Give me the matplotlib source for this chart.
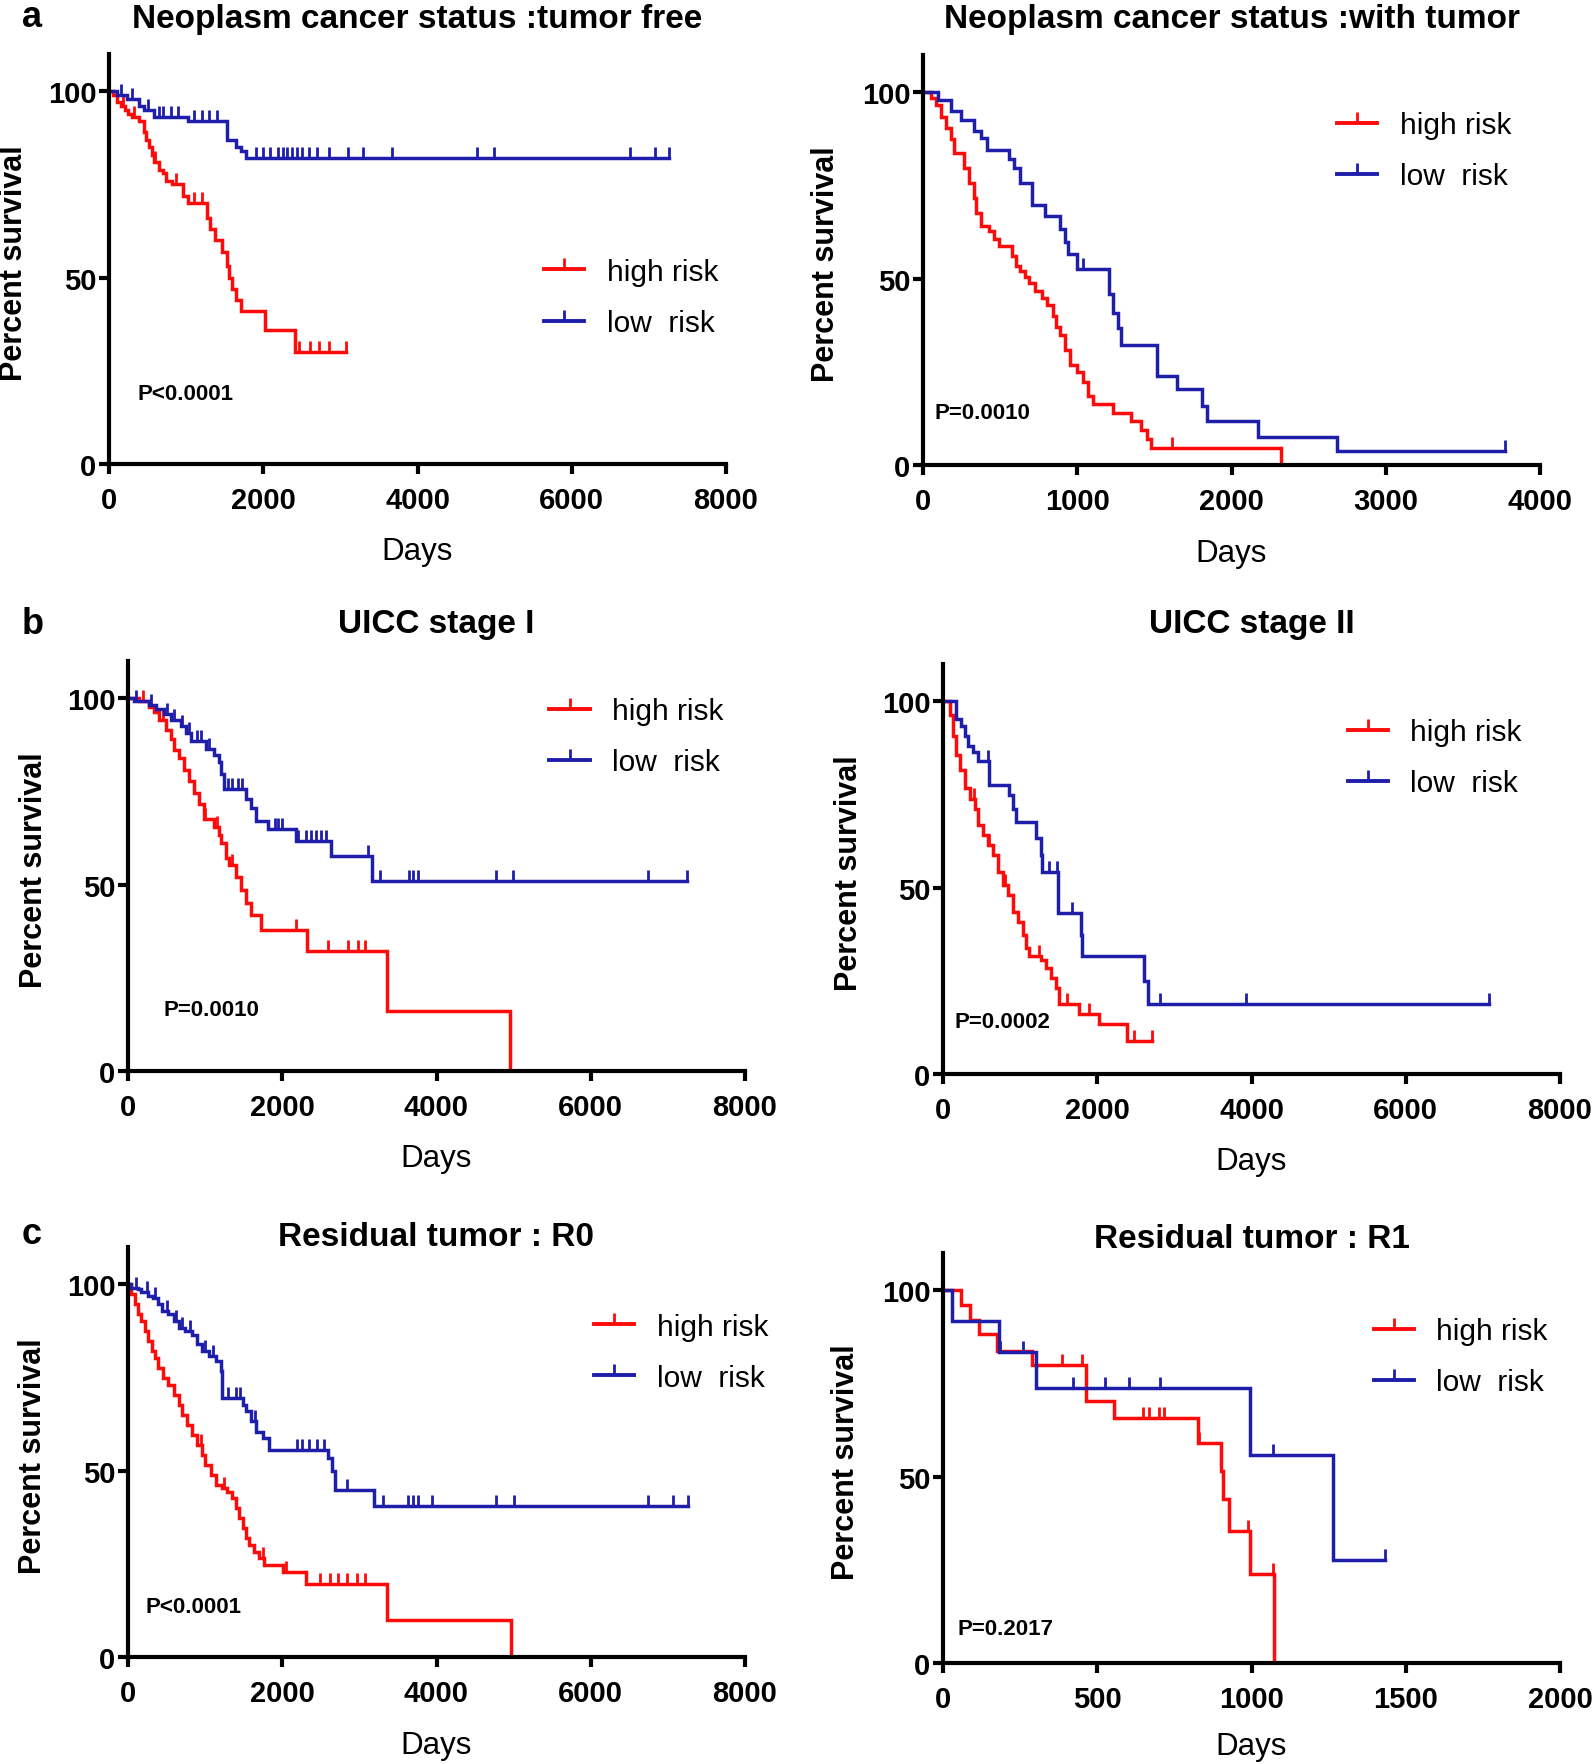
import numpy as np
import matplotlib
matplotlib.use("Agg")
import matplotlib.pyplot as plt
from matplotlib.lines import Line2D

plt.rcParams['font.family'] = ['Liberation Sans', 'DejaVu Sans']

RED = '#FF0A0A'
BLUE = '#1E1EAA'

# ---- data (days, percent survival after each event, censored times) ----
# a: tumor free
tf_high_t = [50, 107, 150, 202, 250, 296, 391, 454, 480, 517, 560, 580, 650, 700, 738, 820, 958, 1021,
             1274, 1305, 1368, 1463, 1526, 1560, 1589, 1652, 1715, 2018, 2409]
tf_high_s = [99, 97, 96, 95, 94, 93, 92, 89, 87, 85, 83, 81, 79, 78, 76, 75, 72, 70,
             66, 63, 60, 57, 53, 50, 47, 44, 41, 36, 30]
tf_high_end = 3071
tf_high_cens = [180, 330, 600, 870, 1100, 1200, 2470, 2600, 2720, 2850, 3071]

tf_low_t = [107, 233, 391, 454, 580, 1021, 1526, 1652, 1715, 1778]
tf_low_s = [99, 98, 96, 95, 93, 92, 87, 85, 84, 82]
tf_low_end = 7264
tf_low_cens = [150, 300, 500, 650, 700, 800, 900, 1100, 1200, 1300, 1400, 1904, 1999, 2093, 2188,
               2251, 2314, 2377, 2440, 2503, 2598, 2692, 2850, 3102, 3291, 3670, 4773, 4994,
               6759, 7074, 7264]

# a: with tumor
wt_high_t = [49, 82, 115, 148, 181, 198, 263, 296, 329, 346, 379, 428, 461, 494, 580, 600, 630, 660,
             690, 724, 774, 807, 840, 865, 889, 922, 955, 998, 1037, 1070, 1103, 1235, 1350, 1416,
             1449, 1481, 2321]
wt_high_s = [98.5, 96.5, 93.5, 90.5, 87.5, 83.6, 79.6, 75.6, 71.6, 67.7, 64, 62.7, 60.7, 58.7, 56,
             53.5, 52, 50.5, 48.8, 46.8, 44.8, 42.8, 40, 37, 34.8, 30.8, 26.9, 24.9, 22.4, 18.4,
             16.4, 13.9, 11.9, 9.5, 7, 4.5, 0]
wt_high_end = 2321
wt_high_cens = [1613]

wt_low_t = [99, 181, 247, 329, 379, 412, 560, 590, 626, 708, 790, 889, 922, 938, 998, 1208, 1235,
            1261, 1284, 1514, 1646, 1811, 1844, 2173, 2683]
wt_low_s = [98, 95, 92.5, 89.5, 87.6, 84.6, 82, 79.6, 75.6, 69.7, 66.7, 63.2, 59.7, 56.7, 52.7,
            45.8, 40.8, 36.8, 32.3, 23.9, 20.4, 15.9, 11.9, 7.5, 3.8]
wt_low_end = 3770
wt_low_cens = [1037, 3770]

# b: UICC stage I
s1_high_t = [142, 271, 336, 400, 497, 562, 594, 658, 723, 788, 852, 917, 981, 1110, 1175, 1207,
             1272, 1304, 1401, 1465, 1530, 1595, 1724, 2318, 3357, 4952]
s1_high_s = [99.3, 97.7, 96.2, 94.2, 91.6, 89, 86, 84, 80.8, 77.7, 74.7, 71.6, 67.5, 65.4, 63.4,
             61.3, 57.2, 55.2, 52.1, 48.6, 45, 41.8, 37.7, 32.1, 16.2, 0]
s1_high_end = 4952
s1_high_cens = [200, 450, 1000, 1150, 1350, 2176, 2595, 2853, 2983, 3079]

s1_low_t = [77, 271, 368, 465, 562, 691, 755, 820, 1014, 1110, 1175, 1207, 1240, 1530, 1595, 1659,
            1821, 2176, 2627, 3163]
s1_low_s = [99.3, 98.3, 97.2, 95.7, 94.2, 92.6, 90.6, 88.5, 86.5, 84.9, 82.9, 79.8, 75.7, 73.1,
            70.6, 67, 64.9, 61.8, 57.7, 51.1]
s1_low_end = 7243
s1_low_cens = [110, 300, 500, 600, 700, 790, 900, 950, 1050, 1300, 1350, 1420, 1480, 1900, 1950,
               2000, 2208, 2305, 2369, 2434, 2498, 2563, 3112, 3273, 3641, 3692, 3757, 4771, 4997,
               6740, 7243]

# b: UICC stage II
s2_high_t = [86, 129, 172, 215, 280, 344, 409, 452, 516, 581, 645, 710, 774, 839, 903, 968, 1032,
             1075, 1118, 1269, 1333, 1398, 1462, 1505, 1763, 2022, 2387]
s2_high_s = [96.2, 90.8, 85.5, 81.5, 76.6, 73.9, 71.2, 66.8, 64.1, 61.4, 58.7, 54.3, 50.7, 48.0,
             43.5, 40.9, 37.3, 33.8, 31.6, 30.7, 28.5, 25.8, 23.1, 18.7, 16.0, 13.3, 8.8]
s2_high_end = 2710
s2_high_cens = [400, 600, 800, 1250, 1613, 1892, 2473, 2710]

s2_low_t = [172, 237, 280, 323, 387, 452, 602, 860, 903, 946, 1204, 1269, 1290, 1495, 1785, 1806,
            2602, 2654]
s2_low_s = [95.3, 93.5, 90.8, 88.1, 86.4, 84.1, 77.5, 74.8, 71.2, 67.7, 63.2, 58.7, 54.3, 43.1,
            37.4, 31.6, 24.9, 18.7]
s2_low_end = 7074
s2_low_cens = [581, 1376, 1484, 1677, 2817, 3935, 7074]

# c: residual tumor R0
r0_high_t = [44, 87, 131, 175, 218, 262, 306, 349, 393, 459, 524, 590, 655, 699, 764, 830, 895, 961,
             1004, 1070, 1135, 1223, 1288, 1354, 1397, 1441, 1485, 1528, 1572, 1638, 1703, 1769,
             2009, 2314, 3362, 4969]
r0_high_s = [97.3, 94.6, 91.9, 90.1, 87.4, 84.8, 82.1, 80.3, 77.6, 74.9, 73.1, 70.4, 67.7, 65.0,
             62.3, 59.6, 56.9, 54.3, 51.6, 48.9, 46.2, 45.3, 44.4, 42.6, 39.9, 37.2, 34.5, 31.8,
             30.0, 28.3, 26.5, 24.7, 22.9, 19.7, 10.0, 0]
r0_high_end = 4969
r0_high_cens = [600, 950, 1250, 1747, 2052, 2489, 2620, 2729, 2838, 2969, 3079]

r0_low_t = [44, 131, 175, 262, 328, 393, 437, 524, 590, 655, 742, 830, 895, 961, 1048, 1135, 1201,
            1223, 1485, 1528, 1594, 1659, 1747, 1834, 2598, 2642, 2686, 3188]
r0_low_s = [99.1, 98.7, 97.8, 96.9, 96.4, 94.6, 92.8, 91.9, 90.1, 88.3, 87.4, 86.5, 83.9, 82.1,
            80.7, 79.4, 76.7, 69.5, 67.7, 65.9, 63.2, 60.5, 58.7, 55.6, 53.4, 49.8, 44.8, 40.4]
r0_low_end = 7260
r0_low_cens = [100, 250, 350, 500, 620, 700, 800, 1000, 1100, 1300, 1400, 1450, 1650, 2187, 2252,
               2350, 2448, 2547, 2841, 3300, 3627, 3692, 3758, 3941, 4772, 5002, 6736, 7064, 7260]

# c: residual tumor R1
r1_high_t = [59, 89, 117, 176, 290, 465, 554, 825, 900, 908, 926, 995, 1072]
r1_high_s = [96, 92, 88.2, 83.7, 80, 70.4, 65.8, 59.1, 51.6, 44.1, 35.3, 23.8, 0]
r1_high_end = 1072
r1_high_cens = [385, 451, 649, 668, 700, 715, 830, 990, 1070]

r1_low_t = [28, 180, 300, 995, 1264]
r1_low_s = [91.7, 83.4, 73.8, 55.8, 27.6]
r1_low_end = 1432
r1_low_cens = [185, 259, 423, 526, 603, 703, 1069, 1432]


def km(ax, times, surv, end, cens, color):
    x = np.r_[0, times, end]
    y = np.r_[100, surv, surv[-1]]
    ax.step(x, y, where='post', color=color, lw=2.5, solid_joinstyle='miter')
    t_all = np.r_[0, times]
    s_all = np.r_[100, surv]
    idx = np.searchsorted(t_all, cens, side='right') - 1
    ax.plot(cens, s_all[idx], ls='none', marker=2, ms=8, mew=2.0, color=color)


W, H = 1595, 1765
fig = plt.figure(figsize=(W / 100, H / 100), dpi=100)

panels = [
    dict(l=109, b=465, title='Neoplasm cancer status :tumor free', tb=28, xmax=8000, step=2000,
         high=(tf_high_t, tf_high_s, tf_high_end, tf_high_cens),
         low=(tf_low_t, tf_low_s, tf_low_end, tf_low_cens),
         p='P<0.0001', pp=(0.047, 0.171), lg=(0.705, 0.503), yl=14, xl=552),
    dict(l=923, b=466, title='Neoplasm cancer status :with tumor', tb=28, xmax=4000, step=1000,
         high=(wt_high_t, wt_high_s, wt_high_end, wt_high_cens),
         low=(wt_low_t, wt_low_s, wt_low_end, wt_low_cens),
         p='P=0.0010', pp=(0.019, 0.127), lg=(0.671, 0.863), yl=826, xl=554),
    dict(l=128, b=1072, title='UICC stage I', tb=633, xmax=8000, step=2000,
         high=(s1_high_t, s1_high_s, s1_high_end, s1_high_cens),
         low=(s1_low_t, s1_low_s, s1_low_end, s1_low_cens),
         p='P=0.0010', pp=(0.057, 0.149), lg=(0.683, 0.912), yl=34, xl=1159),
    dict(l=943, b=1075, title='UICC stage II', tb=633, xmax=8000, step=2000,
         high=(s2_high_t, s2_high_s, s2_high_end, s2_high_cens),
         low=(s2_low_t, s2_low_s, s2_low_end, s2_low_cens),
         p='P=0.0002', pp=(0.019, 0.129), lg=(0.656, 0.868), yl=849, xl=1162),
    dict(l=128, b=1658, title='Residual tumor : R0', tb=1246, xmax=8000, step=2000,
         high=(r0_high_t, r0_high_s, r0_high_end, r0_high_cens),
         low=(r0_low_t, r0_low_s, r0_low_end, r0_low_cens),
         p='P<0.0001', pp=(0.028, 0.122), lg=(0.755, 0.840), yl=33, xl=1746),
    dict(l=943, b=1664, title='Residual tumor : R1', tb=1248, xmax=2000, step=500,
         high=(r1_high_t, r1_high_s, r1_high_end, r1_high_cens),
         low=(r1_low_t, r1_low_s, r1_low_end, r1_low_cens),
         p='P=0.2017', pp=(0.024, 0.085), lg=(0.698, 0.844), yl=846, xl=1747),
]

aw, ah = 617, 410
for pn in panels:
    ax = fig.add_axes([pn['l'] / W, 1 - pn['b'] / H, aw / W, ah / H])
    km(ax, *pn['high'], RED)
    km(ax, *pn['low'], BLUE)
    ax.set_xlim(0, pn['xmax'])
    ax.set_ylim(0, 110)
    ax.set_xticks(np.arange(0, pn['xmax'] + 1, pn['step']))
    ax.set_yticks([0, 50, 100])
    for s in ['top', 'right']:
        ax.spines[s].set_visible(False)
    for s in ['left', 'bottom']:
        ax.spines[s].set_linewidth(3)
    ax.tick_params(axis='both', width=3, length=7, labelsize=21)
    ax.tick_params(axis='x', pad=9)
    ax.tick_params(axis='y', pad=2)
    for lab in ax.get_xticklabels() + ax.get_yticklabels():
        lab.set_fontweight('bold')
    ax.text(pn['pp'][0], pn['pp'][1], pn['p'], transform=ax.transAxes, fontsize=16,
            fontweight='bold', ha='left', va='center')
    handles = [Line2D([], [], color=RED, lw=2.8, marker=2, ms=8, mew=2.0),
               Line2D([], [], color=BLUE, lw=2.8, marker=2, ms=8, mew=2.0)]
    ax.legend(handles, ['high risk', 'low  risk'], loc='upper left', bbox_to_anchor=pn['lg'],
              frameon=False, fontsize=21.5, numpoints=1, handlelength=1.35, handletextpad=0.75,
              labelspacing=0.78, borderpad=0, borderaxespad=0)
    cx = (pn['l'] + aw / 2) / W
    fig.text(cx, 1 - pn['tb'] / H, pn['title'], ha='center', va='baseline', fontsize=24,
             fontweight='bold')
    fig.text(pn['yl'] / W, 1 - (pn['b'] - ah * 100 / 110 / 2 - 15) / H, 'Percent survival',
             rotation=90, ha='center', va='center', fontsize=22, fontweight='bold')
    fig.text(cx, 1 - pn['xl'] / H, 'Days', ha='center', va='center', fontsize=22.5)

for letter, yb in [('a', 27), ('b', 634), ('c', 1244)]:
    fig.text(22 / W, 1 - yb / H, letter, ha='left', va='baseline', fontsize=26, fontweight='bold')

fig.savefig('out.png', dpi=100)
